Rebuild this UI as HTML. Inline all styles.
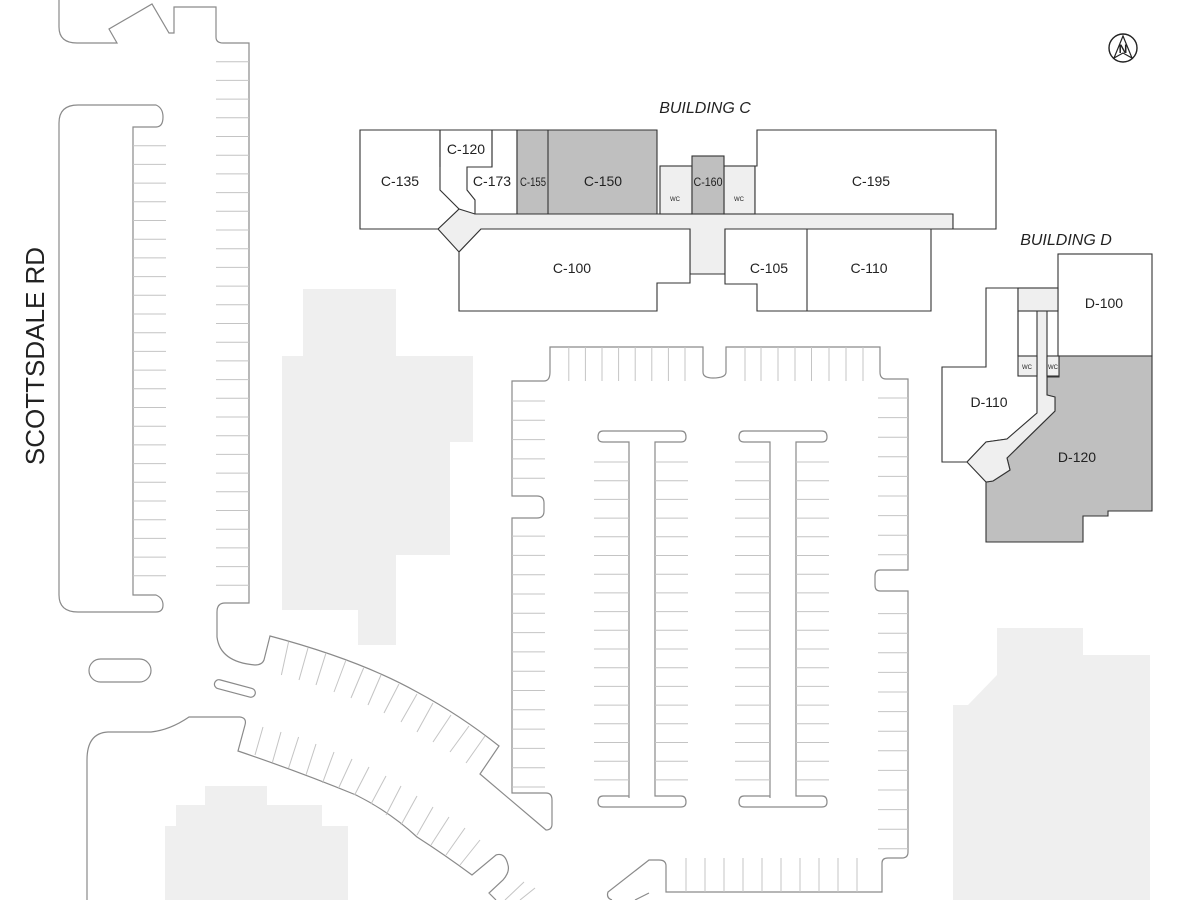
<!DOCTYPE html>
<html><head><meta charset="utf-8"><style>
html,body{margin:0;padding:0;background:#fff;}
svg{display:block;}
text{font-family:"Liberation Sans",sans-serif;fill:#222;}
</style></head><body>
<svg id="s" width="1192" height="900" viewBox="0 0 1192 900" xmlns="http://www.w3.org/2000/svg">
<!-- gray blobs -->
<g fill="#efefef" stroke="none">
<polygon points="303,289 396,289 396,356 473,356 473,442 450,442 450,555 396,555 396,645 358,645 358,610 282,610 282,356 303,356"/>
<polygon points="205,786 267,786 267,805 322,805 322,826 348,826 348,900 165,900 165,826 176,826 176,805 205,805"/>
<polygon points="997,628 1083,628 1083,655 1150,655 1150,900 953,900 953,705 968,705 997,675"/>
</g>
<g fill="none" stroke="#8a8a8a" stroke-width="1.2">
<!-- top-left road -->
<path d="M59,0 L59,27 Q59,43 77,43 L117,43 L109,29 L152,4 L169,33 L174,33 L174,7 L216,7 L216,37 Q216,43 223,43 L249,43 L249,603 L225,603 Q217,603 217,612 L217,637 Q220,662 255,665 Q262,665 264,660 L270,636 Q360,660 417,692 Q460,715 499,746 L480,774 L546,830 Q552,830 552,824 L552,800 Q552,793 546,793 L512,793 L512,518 L537,518 Q544,518 544,511 L544,503 Q544,496 537,496 L512,496 L512,381 L544,381 Q550,381 550,372 L550,347 L703,347 L703,372 Q703,378 713,378 Q726,378 726,372 L726,347 L880,347 L880,372 Q880,379 886,379 L908,379 L908,570 L880,570 Q875,570 875,576 L875,585 Q875,591 880,591 L908,591 L908,852 Q908,858 902,858 L888,858 Q882,858 882,863 L882,892 L666,892 L666,866 Q666,860 659,860 L649,860 L608,892 Q606,898 612,900"/>
<!-- lower arc & road -->
<path d="M87,900 L87,760 Q87,733 108,732 L151,732 Q170,730 189,717 L240,717 Q247,718 245,725 L238,751 Q300,772 356,795 Q390,812 417,837 Q445,855 472,875 L496,855 Q505,852 508,865 Q510,872 503,880 L489,893 L496,900"/>
<!-- median island left -->
<path d="M59,595 L59,123 Q59,105 78,105 L156,105 Q163,108 163,117 Q163,127 156,127 L133,127 L133,595 L156,595 Q163,598 163,605 Q163,612 156,612 L78,612 Q59,612 59,595 Z"/>
<rect x="89" y="659" width="62" height="23" rx="11.5"/>
<rect x="214" y="684" width="42" height="9" rx="4.5" transform="rotate(15 235 688)"/>
<!-- islands -->
<path d="M629,798 L629,442 L603,442 Q598,442 598,437 Q598,431 603,431 L681,431 Q686,431 686,437 Q686,442 681,442 L655,442 L655,796 L681,796 Q686,796 686,802 Q686,807 681,807 L603,807 Q598,807 598,802 Q598,796 603,796 L629,796"/>
<path d="M770,798 L770,442 L744,442 Q739,442 739,437 Q739,431 744,431 L822,431 Q827,431 827,437 Q827,442 822,442 L796,442 L796,796 L822,796 Q827,796 827,802 Q827,807 822,807 L744,807 Q739,807 739,802 Q739,796 744,796 L770,796"/>
<path d="M635,900 L649,893"/>
</g>
<g id="stalls" stroke="#c4c4c4" stroke-width="1"></g>
<!-- Building C -->
<g stroke="#333" stroke-width="1.1">
<polygon fill="#efefef" points="475,214 953,214 953,229 725,229 725,274 690,274 690,229 481,229 459,252 438,229 459,209"/>
<polygon fill="#fff" points="360,130 440,130 440,190 459,209 438,229 360,229"/>
<polygon fill="#fff" points="440,130 517,130 517,214 475,214 475,200 467,190 467,167 492,167 492,130"/>
<polyline fill="none" points="440,167 440,130 492,130 492,167"/>
<polygon fill="#bfbfbf" points="517,130 657,130 657,214 517,214"/>
<line x1="548" y1="130" x2="548" y2="214"/>
<rect x="660" y="166" width="32" height="48" fill="#efefef"/>
<rect x="724" y="166" width="31" height="48" fill="#efefef"/>
<rect x="692" y="156" width="32" height="58" fill="#bfbfbf"/>
<polygon fill="#fff" points="757,130 996,130 996,229 953,229 953,214 755,214 755,166 757,166"/>
<polygon fill="#fff" points="481,229 690,229 690,283 657,283 657,311 459,311 459,252"/>
<polygon fill="#fff" points="725,229 931,229 931,311 757,311 757,284 725,284"/>
<line x1="807" y1="229" x2="807" y2="311"/>
</g>
<!-- Building D -->
<g stroke="#333" stroke-width="1.1">
<polygon fill="#fff" points="942,367 986,367 986,288 1018,288 1018,356 1037,356 1037,413 1007,439 986,442 967,462 942,462"/>
<rect x="1058" y="254" width="94" height="102" fill="#fff"/>
<polygon fill="#bfbfbf" points="1059,356 1152,356 1152,511 1108,511 1108,516 1083,516 1083,542 986,542 986,482 993,481 1010,470 1007,458 1055,411 1055,397 1047,395 1047,377 1059,377"/>
<polygon fill="#efefef" points="1037,311 1047,311 1047,395 1055,397 1055,411 1007,458 1010,470 993,481 986,482 967,462 986,442 1007,439 1037,413"/>
<rect x="1018" y="288" width="40" height="23" fill="#efefef"/>
<rect x="1018" y="356" width="19" height="20" fill="#efefef"/>
<rect x="1047" y="356" width="12" height="20" fill="#efefef"/>
<line x1="1018" y1="311" x2="1018" y2="356"/>
</g>
<!-- labels -->
<g font-size="14" text-anchor="middle">
<text x="400" y="186">C-135</text>
<text x="466" y="154">C-120</text>
<text x="492" y="186">C-173</text>
<text x="533" y="186" font-size="12" textLength="26" lengthAdjust="spacingAndGlyphs">C-155</text>
<text x="603" y="186">C-150</text>
<text x="708" y="186" font-size="12" textLength="29" lengthAdjust="spacingAndGlyphs">C-160</text>
<text x="871" y="186">C-195</text>
<text x="572" y="273">C-100</text>
<text x="769" y="273">C-105</text>
<text x="869" y="273">C-110</text>
<text x="1104" y="308">D-100</text>
<text x="989" y="407">D-110</text>
<text x="1077" y="462">D-120</text>
<text x="675" y="201" font-size="6">WC</text>
<text x="739" y="201" font-size="6">WC</text>
<text x="1027" y="369" font-size="6">WC</text>
<text x="1053" y="369" font-size="6">WC</text>
<text x="705" y="113" font-size="16" font-style="italic">BUILDING C</text>
<text x="1066" y="245" font-size="16" font-style="italic">BUILDING D</text>
</g>
<text x="0" y="0" font-size="26" text-anchor="middle" transform="translate(44,356) rotate(-90)">SCOTTSDALE RD</text>
<!-- north arrow -->
<g transform="translate(1123,48)">
<circle r="14" fill="#fff" stroke="#222" stroke-width="1.4"/>
<polygon points="0,-12 -9,10 0,5 9,10" fill="#fff" stroke="#222" stroke-width="1.2"/>
<text x="0" y="5" font-size="12" text-anchor="middle" font-weight="bold">N</text>
</g>
<script>
(function(){
var g=document.getElementById('stalls'),ns='http://www.w3.org/2000/svg';
function L(a,b,c,d){var l=document.createElementNS(ns,'line');l.setAttribute('x1',a);l.setAttribute('y1',b);l.setAttribute('x2',c);l.setAttribute('y2',d);g.appendChild(l);}
var y;
for(y=145.7;y<592;y+=18.7)L(133,y,166,y);
for(y=61.7;y<600;y+=18.7)L(216,y,249,y);
[568.8,585.4,602,618.6,635.2,651.8,668.4,685,745,761,778,795,811.5,829,846,863].forEach(function(x){L(x,347,x,381);});
for(y=401;y<790;y+=19.3){if(y>490&&y<524)continue;L(512,y,545,y);}
for(y=398;y<852;y+=19.6){if(y>564&&y<597)continue;L(878,y,908,y);}
for(y=462;y<780;y+=18.7){L(594,y,629,y);L(655,y,688,y);L(735,y,770,y);L(796,y,829,y);}
[686,705,724,743,762,781,800,819,838,857].forEach(function(x){L(x,858,x,892);});
[[288.6,641.7,281.4,675],[308,648,299,680],[326,653,316,685],[346,660,334,692],[363.6,668,351,698],[381,675,368,705],[399,684,384,713],[417,694,401,722],[433,703,417,732],[451,715,433,742],[469,726,450,752],[485,736,466,763],
[255,755,263,727],[272.5,762,281,732],[288.6,768,298.6,737],[306,775,316,744],[322.5,783,334,752],[338.6,788,352,759],[354.6,795,369,767],[371,804,386,776],[386,815,401,786],[401,825,417,796],[417,835,433,807],[431,845,449,817],[446,855,465,828],[460,865,480,840],[505,900,524,882],[520,900,535,888]].forEach(function(p){L(p[0],p[1],p[2],p[3]);});
})();
</script>
</svg>
</body></html>
